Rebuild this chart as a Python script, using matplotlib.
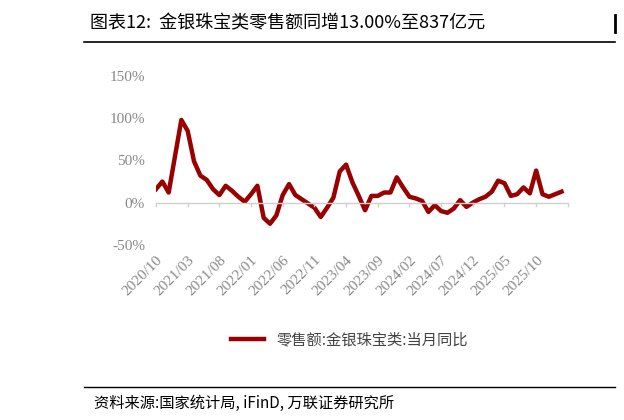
import matplotlib
matplotlib.use("Agg")
import matplotlib.pyplot as plt

# monthly yoy of gold/silver/jewelry retail sales, %
values = [16, 25, 12, 55, 98, 85, 49, 32, 27, 16, 9, 20, 14, 7, 1, 10, 20,
          -18, -25, -15, 9, 22, 9, 4, -1, -6, -17, -6, 6, 37, 45, 24, 8, -9,
          8, 8, 12, 12, 30, 18, 7, 5, 2, -11, -3, -10, -12, -7, 3, -5, 0, 4,
          7, 13, 26, 23, 8, 10, 18, 11, 38, 10, 7, 10, 13]
tick_labels = ["2020/10", "2021/03", "2021/08", "2022/01", "2022/06", "2022/11",
               "2023/04", "2023/09", "2024/02", "2024/07", "2024/12", "2025/05",
               "2025/10"]

cjk = ["Noto Sans CJK SC", "DejaVu Sans"]
serif = "Liberation Serif"

fig = plt.figure(figsize=(6.24, 4.2), dpi=100)
ax = fig.add_axes([0.25, 0.417, 0.66, 0.402])
x = list(range(len(values)))
ax.plot(x, values, color="#990000", lw=3.2, label="零售额:金银珠宝类:当月同比")
ax.set_xlim(0, 65)
ax.set_ylim(-50, 150)
ax.set_yticks([-50, 0, 50, 100, 150])
ax.set_yticklabels(["-50%", "0%", "50%", "100%", "150%"], family=serif,
                   color="#888888", fontsize=11)
for s in ["top", "right", "left", "bottom"]:
    ax.spines[s].set_visible(False)
ax.tick_params(axis="y", length=0, pad=8)
ax.axhline(0, color="#d0d0d0", lw=1)
ticks = list(range(0, 66, 5))
for t in ticks:
    ax.plot([t, t], [0, -4], color="#d0d0d0", lw=1, clip_on=False)
ax.set_xticks(ticks[:len(tick_labels)])
ax.set_xticklabels(tick_labels, rotation=45, ha="right", rotation_mode="anchor",
                   family=serif, color="#888888", fontsize=11)
ax.tick_params(axis="x", length=0, pad=6)

leg = fig.legend(loc="center", bbox_to_anchor=(0.56, 0.19), frameon=False,
                 prop={"family": cjk, "size": 11}, handlelength=2.2)
for t in leg.get_texts():
    t.set_color("#444444")

fig.text(0.145, 0.945, "图表12:  金银珠宝类零售额同增13.00%至837亿元",
         family=cjk, fontsize=13, va="center")
fig.add_artist(plt.Line2D([0.135, 0.985], [0.9, 0.9], color="black", lw=1.2))
fig.add_artist(plt.Line2D([0.985, 0.985], [0.925, 0.965], color="black", lw=2))
fig.add_artist(plt.Line2D([0.135, 0.985], [0.078, 0.078], color="black", lw=1))
fig.text(0.15, 0.04, "资料来源:国家统计局, iFinD, 万联证券研究所", family=cjk,
         fontsize=11, style="italic", va="center")
fig.savefig("out.png", dpi=100)
